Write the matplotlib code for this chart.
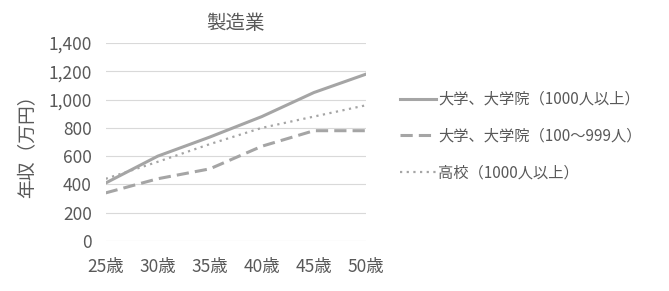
import matplotlib
matplotlib.use("Agg")
import matplotlib.pyplot as plt

plt.rcParams['font.family'] = ['Noto Sans CJK JP', 'DejaVu Sans']

ages = ["25歳", "30歳", "35歳", "40歳", "45歳", "50歳"]
univ_large = [410, 600, 735, 880, 1050, 1180]
univ_mid = [340, 440, 510, 670, 780, 780]
high_large = [440, 560, 685, 800, 880, 960]
yticks = [0, 200, 400, 600, 800, 1000, 1200, 1400]

line_color = "#a5a5a5"
text_color = "#595959"

fig = plt.figure(figsize=(6.69, 2.91), dpi=100)
ax = fig.add_axes([0.158, 0.172, 0.389, 0.68])

x = range(len(ages))
ax.plot(x, univ_large, color=line_color, lw=2.2, label="大学、大学院（1000人以上）")
ax.plot(x, univ_mid, color=line_color, lw=2.2, ls=(0, (4, 2)), label="大学、大学院（100〜999人）")
ax.plot(x, high_large, color=line_color, lw=1.6, ls=(0, (1, 2)), label="高校（1000人以上）")

ax.set_xlim(0, 5)
ax.set_ylim(0, 1400)
ax.set_xticks(list(x))
ax.set_xticklabels(ages)
ax.set_yticks(yticks)
ax.set_yticklabels([f"{v:,}" for v in yticks])
ax.tick_params(length=0, labelsize=12.5, colors=text_color, pad=10)
ax.tick_params(axis='x', pad=12)
ax.grid(axis='y', color="#d9d9d9", lw=0.8)
ax.set_axisbelow(True)
for s in ax.spines.values():
    s.set_visible(False)

ax.set_title("製造業", fontsize=14, color=text_color, pad=10)
ax.set_ylabel("年収（万円）", fontsize=13.5, color=text_color, labelpad=8)

fig.legend(loc="upper left", bbox_to_anchor=(0.578, 0.735), frameon=False,
           fontsize=11, handlelength=2.3, handletextpad=0.15,
           labelspacing=1.3, labelcolor=text_color)

fig.savefig("out.png", dpi=100)
